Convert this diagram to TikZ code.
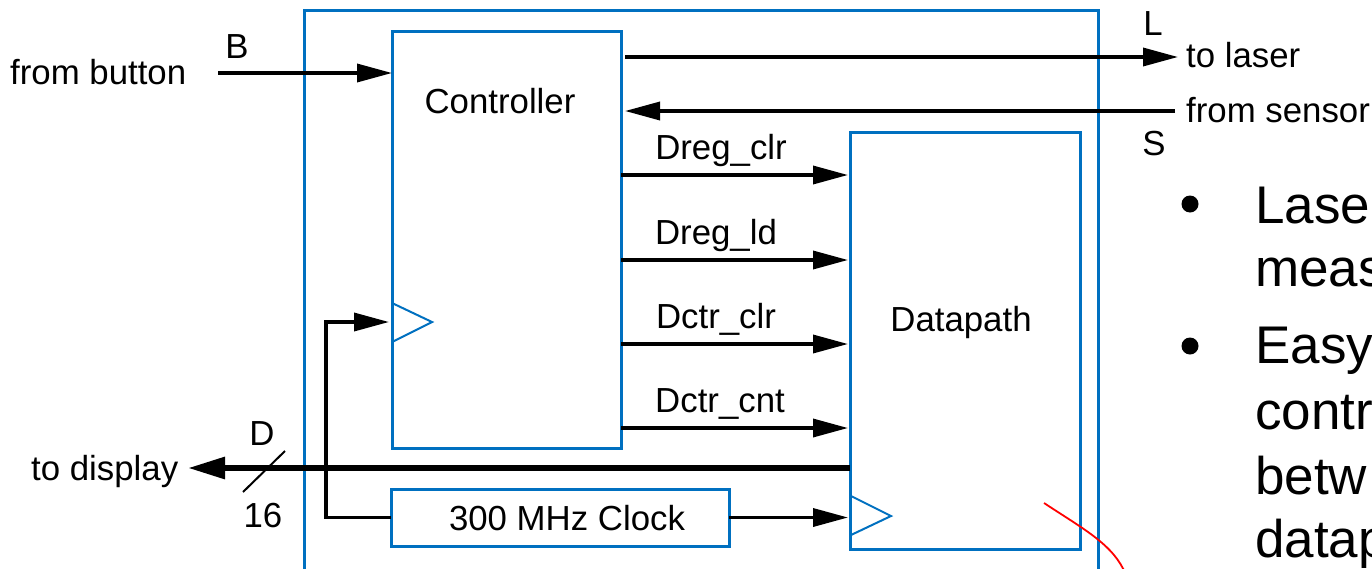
\documentclass[tikz,border=0pt]{standalone}
\usepackage{fontspec}
\setmainfont{Liberation Sans}
\usetikzlibrary{arrows.meta}
\definecolor{boxblue}{RGB}{0,112,192}
\begin{document}
\begin{tikzpicture}[x=1pt,y=-1pt,
  blk/.style={draw=boxblue,line width=3pt,inner sep=0pt,outer sep=0pt,rectangle},
  lbl/.style={inner sep=0pt,anchor=base,font=\fontsize{34.8}{40}\selectfont},
  lblw/.style={lbl,anchor=base west},
  wire/.style={line width=3.5pt},
  arr/.style={wire,-{Triangle[length=35pt,width=18pt]}},
  bigarr/.style={line width=6pt,-{Triangle[length=37pt,width=21pt]}},
  clk/.style={draw=boxblue,line width=2pt,line join=miter},
  bul/.style={inner sep=0pt,anchor=base west,font=\fontsize{53}{64}\selectfont}]
\useasboundingbox (0,0) rectangle (1372,568);

% enclosing system outline (runs off the bottom edge)
\draw[boxblue,line width=3pt] (304,580) -- (304,10) -- (1098,10) -- (1098,580);

% blocks
\node[blk,minimum width=229pt,minimum height=417pt] (ctrl) at (506.5,239.5) {};
\node[blk,minimum width=230pt,minimum height=417pt] (dp) at (965,340.5) {};
\node[blk,minimum width=338pt,minimum height=57pt] (clock) at (560,517.5) {};

\node[lbl] (ctrltxt) at (500,113) {Controller};
\node[lbl] (dptxt) at (961,331) {Datapath};
\node[lbl] (clocktxt) at (567,530) {300 MHz Clock};

% clock input symbols
\draw[clk] (392,303) -- (432,322) -- (392,342);
\draw[clk] (851,496) -- (891,516) -- (851,535);

% external signals
\node[lblw] (button) at (10,84) {from button};
\node[lbl] (btxt) at (237,58) {B};
\coordinate (bin) at (218,73);
\draw[arr] (bin) -- (bin -| ctrl.west);

\node[lbl] (ltxt) at (1153,35) {L};
\node[lblw] (laser) at (1186,67) {to laser};
\coordinate (lout) at (1178,57);
\draw[arr] ([xshift=4pt]ctrl.east |- lout) -- (lout);

\node[lbl] (stxt) at (1154,155) {S};
\node[lblw] (sensor) at (1186,122) {from sensor};
\coordinate (sin) at (1175,111);
\draw[arr] (sin) -- ([xshift=4pt]ctrl.east |- sin);

% control signals controller -> datapath
\foreach \y/\name/\lx in {175/Dreg\_clr/721, 260/Dreg\_ld/716, 344/Dctr\_clr/716, 428/Dctr\_cnt/720}{
  \draw[arr] (ctrl.east |- 0,\y) -- ([xshift=-2pt]dp.west |- 0,\y);
  \node[lbl] at (\lx,\y-16) {\name};
}

% data output bus
\coordinate (dout) at (188,468);
\draw[bigarr] (dp.west |- dout) -- (dout);
\draw[line width=2pt] (243,492) -- (285,451);
\node[lbl] (dtxt) at (262,445) {D};
\node[lbl] (width) at (263,527) {16};
\node[lblw] (display) at (31,480) {to display};

% clock distribution
\coordinate (cfeed) at (326,322);
\draw[wire] (clock.west) -- (cfeed |- clock.west) -- (cfeed);
\draw[arr] ([xshift=-1.75pt]cfeed) -- ([xshift=-3pt]ctrl.west |- cfeed);
\draw[arr] (clock.east) -- ([xshift=-2pt]dp.west |- clock.east);

% red pen stroke
\draw[red,line width=1.8pt] (1044,503) .. controls (1085,530) and (1114,545) .. (1126,575);

% bullet text at the right
\fill (1190,204) circle (8.5pt);
\fill (1190,346) circle (8.5pt);
\node[bul] (b1) at (1255,223) {Lase};
\node[bul] (b2) at (1255,286) {meas};
\node[bul] (b3) at (1255,363) {Easy};
\node[bul] (b4) at (1255,429) {contr};
\node[bul] (b5) at (1255,494) {betw};
\node[bul] (b6) at (1255,557) {datap};
\end{tikzpicture}
\end{document}
